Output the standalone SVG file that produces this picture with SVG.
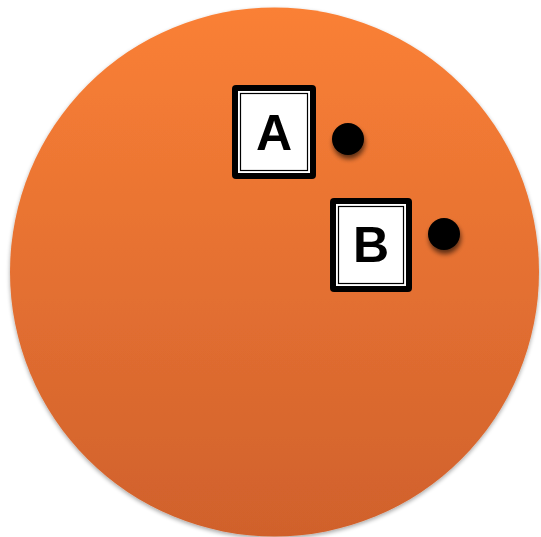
<svg xmlns="http://www.w3.org/2000/svg" width="541" height="537" viewBox="0 0 541 537">
<defs>
<linearGradient id="ball" x1="0" y1="0" x2="0" y2="1">
<stop offset="0" stop-color="#FA8036"/>
<stop offset="1" stop-color="#D0612C"/>
</linearGradient>
<filter id="soft" x="-10%" y="-10%" width="120%" height="120%">
<feGaussianBlur in="SourceAlpha" stdDeviation="2"/>
<feOffset dx="0" dy="2"/>
<feComponentTransfer><feFuncA type="linear" slope="0.35"/></feComponentTransfer>
<feMerge><feMergeNode/><feMergeNode in="SourceGraphic"/></feMerge>
</filter>
<filter id="dotsh" x="-50%" y="-50%" width="200%" height="200%">
<feGaussianBlur in="SourceAlpha" stdDeviation="2.5"/>
<feOffset dx="1" dy="4"/>
<feComponentTransfer><feFuncA type="linear" slope="0.6"/></feComponentTransfer>
<feMerge><feMergeNode/><feMergeNode in="SourceGraphic"/></feMerge>
</filter>
<style>
.outer{fill:#000;}
.gap{fill:#fff;}
.inner{fill:#fff;stroke:#000;stroke-width:1.2;}
.lbl{font-family:"Liberation Sans",Arial,sans-serif;font-weight:bold;font-size:50px;fill:#000;text-anchor:middle;}
.dot{fill:#000;}
</style>
</defs>
<g id="ball-node">
<circle cx="274.5" cy="272" r="264.5" fill="url(#ball)" filter="url(#soft)"/>
</g>
<g id="connectors"></g>
<g id="node-A">
<rect class="outer" x="232" y="85" width="84" height="94" rx="4"/>
<rect class="gap" x="238" y="91" width="72" height="82"/>
<rect class="inner" x="240.5" y="93.5" width="67" height="77"/>
<text class="lbl" x="274" y="150">A</text>
</g>
<g id="dot-A">
<circle class="dot" cx="348" cy="139" r="16" filter="url(#dotsh)"/>
</g>
<g id="node-B">
<rect class="outer" x="330" y="198" width="82" height="94" rx="4"/>
<rect class="gap" x="336" y="204" width="70" height="82"/>
<rect class="inner" x="338.5" y="206.5" width="65" height="77"/>
<text class="lbl" x="371" y="262">B</text>
</g>
<g id="dot-B">
<circle class="dot" cx="444" cy="234" r="16" filter="url(#dotsh)"/>
</g>
</svg>
